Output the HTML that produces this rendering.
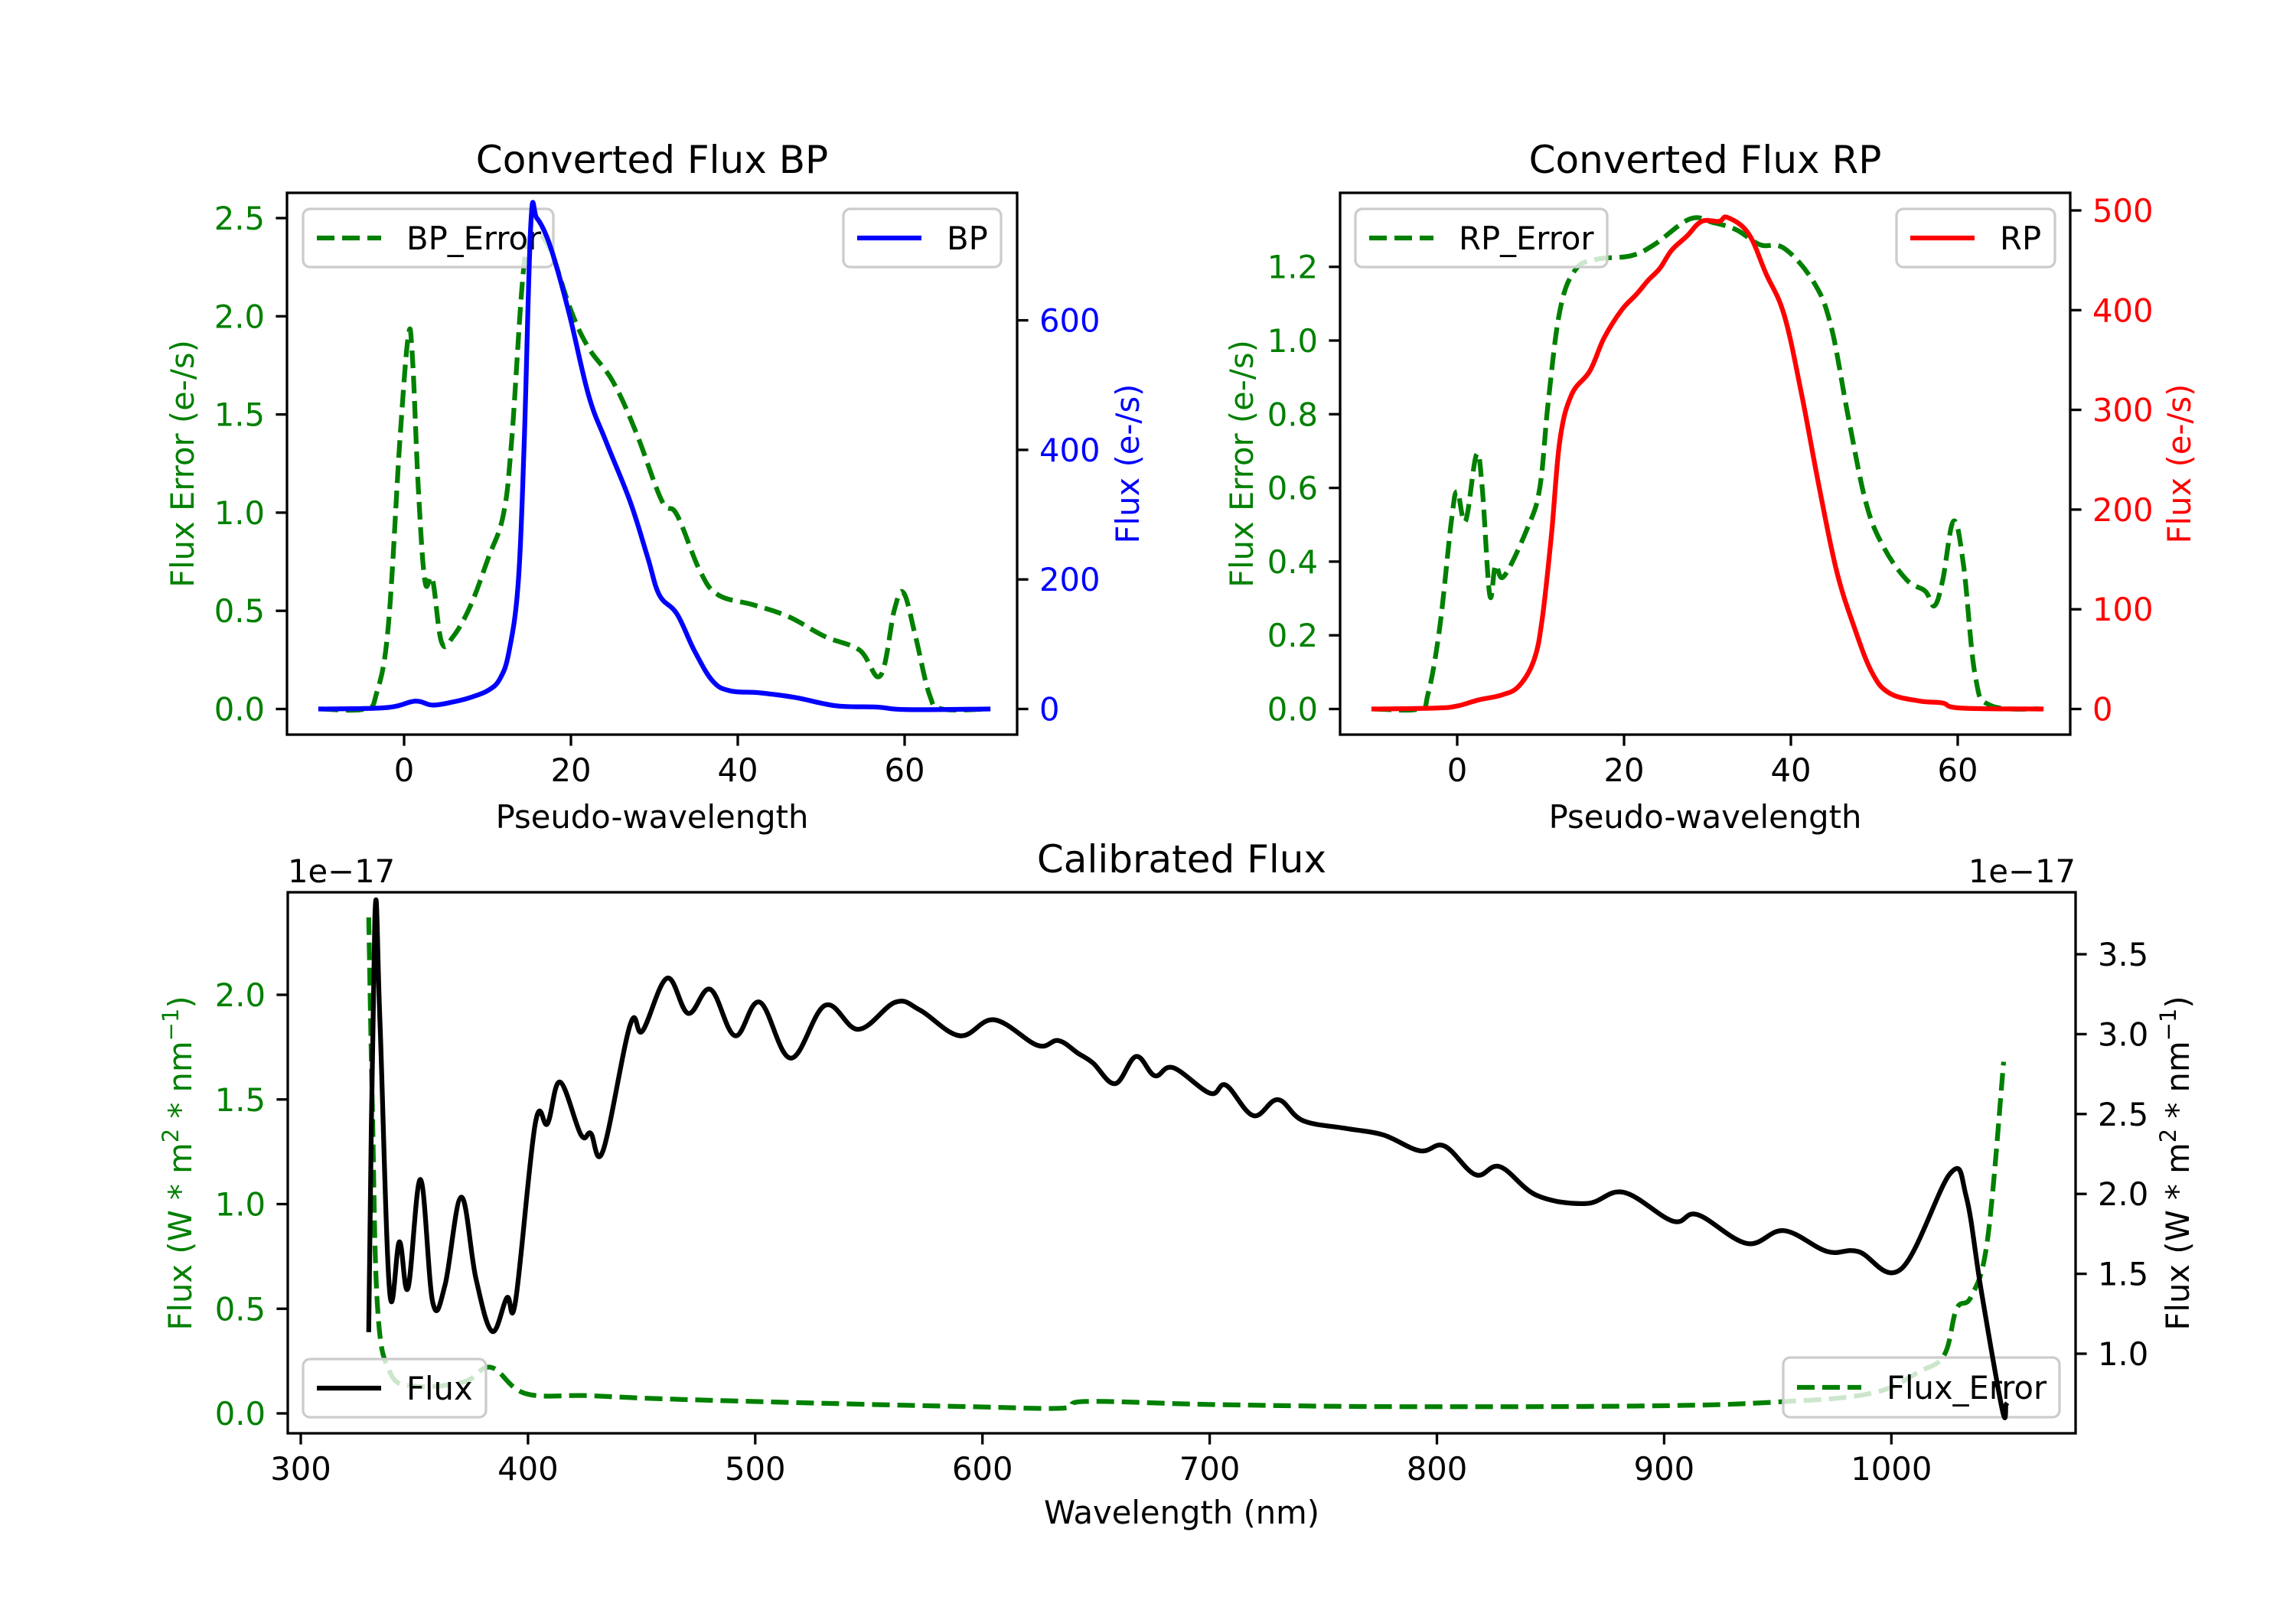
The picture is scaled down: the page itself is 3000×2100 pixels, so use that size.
<!DOCTYPE html>
<html><head><meta charset="utf-8"><style>
html,body{margin:0;padding:0;background:#fff;}
svg{display:block;font-family:"DejaVu Sans","Liberation Sans",sans-serif;}
</style></head>
<body>
<svg id="fig" width="3000" height="2100" viewBox="0 0 3000 2100" xmlns="http://www.w3.org/2000/svg"></svg>
<script>
// ---- data ----
const bpX = [-10,-2.2,1.3,3.4,5.9,8.0,10.1,11.5,12.6,13.7,14.4,15.2,15.9,17.5,19.7,22.1,24.2,27.1,29.2,30.6,32.7,34.8,37.0,39.1,42.6,46.8,51.8,56.7,60.2,70];
const bpY = [0,2,12,6,11,18,29,47,90,198,413,751,758,715,615,485,413,320,234,176,147,90,43,28,25,18,5,3,-1,0];
const bpErrX = [-10,-4.7,-3.3,-1.9,-0.5,0.5,1.0,1.7,2.5,3.4,4.5,5.9,8.0,10.1,11.9,12.9,14.4,15.8,17.5,20,22.1,25,27.8,30.9,32.7,35.5,37.7,41.9,46.1,50.4,54.6,57.1,58.8,59.9,61.3,63,64.5,70];
const bpErrY = [0,0,0.08,0.42,1.37,1.90,1.79,1.13,0.65,0.66,0.34,0.37,0.53,0.77,0.99,1.37,2.27,2.41,2.34,2.03,1.84,1.67,1.41,1.06,0.99,0.70,0.58,0.53,0.47,0.37,0.30,0.17,0.51,0.59,0.37,0.07,0,0];
const rpX = [-10,-2.5,0,2.5,5.3,7.4,9.2,10.2,11.3,12.3,13.7,15.9,17.6,19.7,21.5,22.9,24.3,25.7,27.5,29.3,31.4,32.4,34.9,37,39.2,41.3,43.4,45.5,47.6,49.7,51.8,55.4,58.2,60.3,70];
const rpY = [0,1,3,9,14,23,49,91,175,269,315,339,372,400,416,430,442,460,474,489,489,493,477,437,395,315,222,138,82,37,16,8,6,1,0];
const rpErrX = [-10,-4.6,-3.5,-2.1,-0.7,0,1.0,2.3,3.0,3.9,4.6,5.6,8.4,9.9,10.9,12.3,14.1,16.6,20.8,23.6,27.9,30.7,33.5,36.3,39.2,42.7,44.8,46.9,49,51.1,53.9,56.1,57.2,58.2,59.5,60.7,62.1,63.9,70];
const rpErrY = [0,0,0.04,0.22,0.51,0.59,0.51,0.69,0.60,0.31,0.39,0.36,0.49,0.60,0.83,1.08,1.19,1.22,1.23,1.26,1.33,1.32,1.30,1.26,1.25,1.16,1.04,0.79,0.56,0.44,0.35,0.32,0.28,0.35,0.51,0.39,0.09,0.01,0];
const fluxX = [329.9,332.6,334.8,339.1,343.4,347.2,352.7,358.1,363.5,370.6,377.1,384.2,390.7,394.5,403.2,408.6,414.1,423.3,427.6,433,445,450.4,461.2,470.5,480.3,491.1,502,515.6,530.8,545.4,561.7,572.6,590,605.2,624.2,633.4,642.1,648.6,658.4,667.6,675.8,683.9,700.2,707.2,719.2,730,740.9,759.9,776.2,792.5,803.3,817,827.8,844.1,865.8,882.1,903.8,914.7,936.4,952.7,971.7,985.3,1004.3,1026,1033,1039.6,1048.8,1050.4];
const fluxY = [1.15,3.73,3.10,1.39,1.70,1.41,2.09,1.32,1.43,1.98,1.47,1.14,1.35,1.33,2.44,2.44,2.70,2.37,2.38,2.27,3.06,3.02,3.35,3.13,3.28,2.99,3.20,2.85,3.18,3.03,3.20,3.15,2.99,3.09,2.93,2.96,2.88,2.82,2.69,2.86,2.74,2.79,2.63,2.68,2.49,2.59,2.46,2.41,2.37,2.27,2.30,2.12,2.17,1.99,1.94,2.01,1.83,1.87,1.69,1.77,1.64,1.64,1.53,2.13,1.98,1.39,0.65,0.68];
const fluxErrX = [329.9,331.5,333.7,339.1,350,371.7,383.7,398.8,426,458.6,512.9,594.3,635,645.9,703,784.4,893,947.3,990.7,1012.4,1023.3,1028.7,1035.2,1042.3,1049.4];
const fluxErrY = [2.37,1.47,0.52,0.20,0.13,0.15,0.22,0.095,0.085,0.07,0.053,0.032,0.025,0.057,0.042,0.032,0.036,0.053,0.095,0.20,0.28,0.50,0.56,0.83,1.68];
const pxTicks = [0,20,40,60];
const bpLeftTicks = [0,0.5,1.0,1.5,2.0,2.5];
const bpRightTicks = [0,200,400,600];
const rpLeftTicks = [0,0.2,0.4,0.6,0.8,1.0,1.2];
const rpRightTicks = [0,100,200,300,400,500];
const wlTicks = [300,400,500,600,700,800,900,1000];
const calLeftTicks = [0,0.5,1.0,1.5,2.0];
const calRightTicks = [1.0,1.5,2.0,2.5,3.0,3.5];

// ---- helpers ----
const NS = "http://www.w3.org/2000/svg";
const svg = document.getElementById('fig');
const FS = 41.7, LW = 6.25, SW = 3.3, TL = 14.6;
function mk(tag, attrs, parent){
  const e = document.createElementNS(NS, tag);
  for (const k in attrs) e.setAttribute(k, attrs[k]);
  (parent||svg).appendChild(e);
  return e;
}
function txt(s, x, y, opt, parent){
  const e = mk('text', Object.assign({x:x, y:y, 'font-size':FS, fill:'#000'}, opt||{}), parent);
  e.textContent = s;
  return e;
}
function smoothPath(pts){
  let d = 'M'+pts[0][0].toFixed(1)+','+pts[0][1].toFixed(1);
  for (let i=0;i<pts.length-1;i++){
    const p0=pts[Math.max(0,i-1)], p1=pts[i], p2=pts[i+1], p3=pts[Math.min(pts.length-1,i+2)];
    const t=0.18;
    const c1=[p1[0]+(p2[0]-p0[0])*t, p1[1]+(p2[1]-p0[1])*t];
    const c2=[p2[0]-(p3[0]-p1[0])*t, p2[1]-(p3[1]-p1[1])*t];
    d+=' C'+c1[0].toFixed(1)+','+c1[1].toFixed(1)+' '+c2[0].toFixed(1)+','+c2[1].toFixed(1)+' '+p2[0].toFixed(1)+','+p2[1].toFixed(1);
  }
  return d;
}
function series(xs, ys, fx, fy, color, dashed, name){
  const pts = xs.map((x,i)=>[fx(x), fy(ys[i])]);
  const p = mk('path', {d:smoothPath(pts), fill:'none', stroke:color, 'stroke-width':LW, 'stroke-linejoin':'round', 'stroke-linecap': dashed?'butt':'square'});
  if (dashed) p.setAttribute('stroke-dasharray','23 10');
  
  
  return p;
}
function legend(x, y, w, h, label, color, dashed, name){
  const g = mk('g', {});
  
  
  mk('rect', {x:x, y:y, width:w, height:h, rx:9, fill:'#fff', 'fill-opacity':0.8, stroke:'#cccccc', 'stroke-width':3.3}, g);
  const l = mk('line', {x1:x+18, y1:y+h/2, x2:x+102, y2:y+h/2, stroke:color, 'stroke-width':LW}, g);
  if (dashed) l.setAttribute('stroke-dasharray','23 10');
  txt(label, x+135, y+h/2+15, {}, g);
}
function frame(xl, xr, yt, yb, name){
  const r = mk('rect', {x:xl, y:yt, width:xr-xl, height:yb-yt, fill:'none', stroke:'#000', 'stroke-width':SW});
  
  
}
function xTicks(vals, fx, yb, labels, name){
  const g = mk('g', {});
  
  
  vals.forEach((v,i)=>{
    mk('line', {x1:fx(v), x2:fx(v), y1:yb, y2:yb+TL, stroke:'#000', 'stroke-width':SW}, g);
    txt(labels[i], fx(v), yb+61, {'text-anchor':'middle'}, g);
  });
}
function yTicks(vals, fy, xEdge, side, color, labels, name){
  const g = mk('g', {});
  
  
  vals.forEach((v,i)=>{
    const dx = side==='left' ? -TL : TL;
    mk('line', {x1:xEdge, x2:xEdge+dx, y1:fy(v), y2:fy(v), stroke:'#000', 'stroke-width':SW}, g);
    txt(labels[i], side==='left' ? xEdge-29 : xEdge+29, fy(v)+15, {'text-anchor': side==='left'?'end':'start', fill:color}, g);
  });
}
function rotLabel(s, x, cy, color, name, html){
  const e = mk('text', {x:0, y:0, 'font-size':FS, fill:color, 'text-anchor':'middle', transform:'translate('+x+','+cy+') rotate(-90)'});
  if (html) e.innerHTML = html; else e.textContent = s;
  
  
}
const G='#008000';

// ---- Panel 1: BP ----
const p1x = v => 528 + v*10.9;
const p1yl = v => 926.5 - v*256.6;
const p1yr = v => 926.5 - v*0.8465;
series(bpErrX, bpErrY, p1x, p1yl, G, true, 'bp-error-line');
legend(396, 273, 327, 76, 'BP_Error', G, true, 'bp-error-legend');
legend(1102, 273, 206, 76, 'BP', '#0000ff', false, 'bp-legend');
series(bpX, bpY, p1x, p1yr, '#0000ff', false, 'bp-flux-line');
frame(375, 1329, 252, 960, 'bp-axes-frame');
xTicks(pxTicks, p1x, 960, pxTicks.map(String), 'bp-x-ticks');
yTicks(bpLeftTicks, p1yl, 375, 'left', G, bpLeftTicks.map(v=>v.toFixed(1)), 'bp-left-y-ticks');
yTicks(bpRightTicks, p1yr, 1329, 'right', '#0000ff', bpRightTicks.map(String), 'bp-right-y-ticks');
let t = txt('Converted Flux BP', 852, 226, {'text-anchor':'middle','font-size':50});
 
t = txt('Pseudo-wavelength', 852, 1082, {'text-anchor':'middle'});
 
rotLabel('Flux Error (e-/s)', 253, 606, G, 'bp-left-y-axis-title');
rotLabel('Flux (e-/s)', 1488, 606, '#0000ff', 'bp-right-y-axis-title');

// ---- Panel 2: RP ----
const p2x = v => 1904 + v*10.9;
const p2yl = v => 926.5 - v*481.5;
const p2yr = v => 926.5 - v*1.303;
series(rpErrX, rpErrY, p2x, p2yl, G, true, 'rp-error-line');
legend(1771, 273, 329, 76, 'RP_Error', G, true, 'rp-error-legend');
legend(2478, 273, 207, 76, 'RP', '#ff0000', false, 'rp-legend');
series(rpX, rpY, p2x, p2yr, '#ff0000', false, 'rp-flux-line');
frame(1751, 2705, 252, 960, 'rp-axes-frame');
xTicks(pxTicks, p2x, 960, pxTicks.map(String), 'rp-x-ticks');
yTicks(rpLeftTicks, p2yl, 1751, 'left', G, rpLeftTicks.map(v=>v.toFixed(1)), 'rp-left-y-ticks');
yTicks(rpRightTicks, p2yr, 2705, 'right', '#ff0000', rpRightTicks.map(String), 'rp-right-y-ticks');
t = txt('Converted Flux RP', 2228, 226, {'text-anchor':'middle','font-size':50});
 
t = txt('Pseudo-wavelength', 2228, 1082, {'text-anchor':'middle'});
 
rotLabel('Flux Error (e-/s)', 1637, 606, G, 'rp-left-y-axis-title');
rotLabel('Flux (e-/s)', 2862, 606, '#ff0000', 'rp-right-y-axis-title');

// ---- Panel 3: Calibrated ----
const p3x = v => 393 + (v-300)*2.969;
const p3yl = v => 1847 - v*273.5;
const p3yr = v => 1769 - (v-1)*208.8;
series(fluxErrX, fluxErrY, p3x, p3yl, G, true, 'flux-error-line');
legend(396, 1776, 239, 76, 'Flux', '#000', false, 'flux-legend');
legend(2330, 1774, 361, 78, 'Flux_Error', G, true, 'flux-error-legend');
series(fluxX, fluxY, p3x, p3yr, '#000', false, 'calibrated-flux-line');
frame(376, 2712, 1166, 1873, 'calibrated-axes-frame');
xTicks(wlTicks, p3x, 1873, wlTicks.map(String), 'calibrated-x-ticks');
yTicks(calLeftTicks, p3yl, 376, 'left', G, calLeftTicks.map(v=>v.toFixed(1)), 'calibrated-left-y-ticks');
yTicks(calRightTicks, p3yr, 2712, 'right', '#000', calRightTicks.map(v=>v.toFixed(1)), 'calibrated-right-y-ticks');
t = txt('Calibrated Flux', 1544, 1140, {'text-anchor':'middle','font-size':50});
 
t = txt('Wavelength (nm)', 1544, 1991, {'text-anchor':'middle'});
 
t = txt('1e\u221217', 376, 1153, {});
 
t = txt('1e\u221217', 2712, 1153, {'text-anchor':'end'});
 
const unitHtml = 'Flux (W * m<tspan baseline-shift="super" font-size="29">2</tspan> * nm<tspan baseline-shift="super" font-size="29">\u22121</tspan>)';
rotLabel('', 250, 1520, G, 'calibrated-left-y-axis-title', unitHtml);
rotLabel('', 2860, 1520, '#000', 'calibrated-right-y-axis-title', unitHtml);
</script>
</body></html>
